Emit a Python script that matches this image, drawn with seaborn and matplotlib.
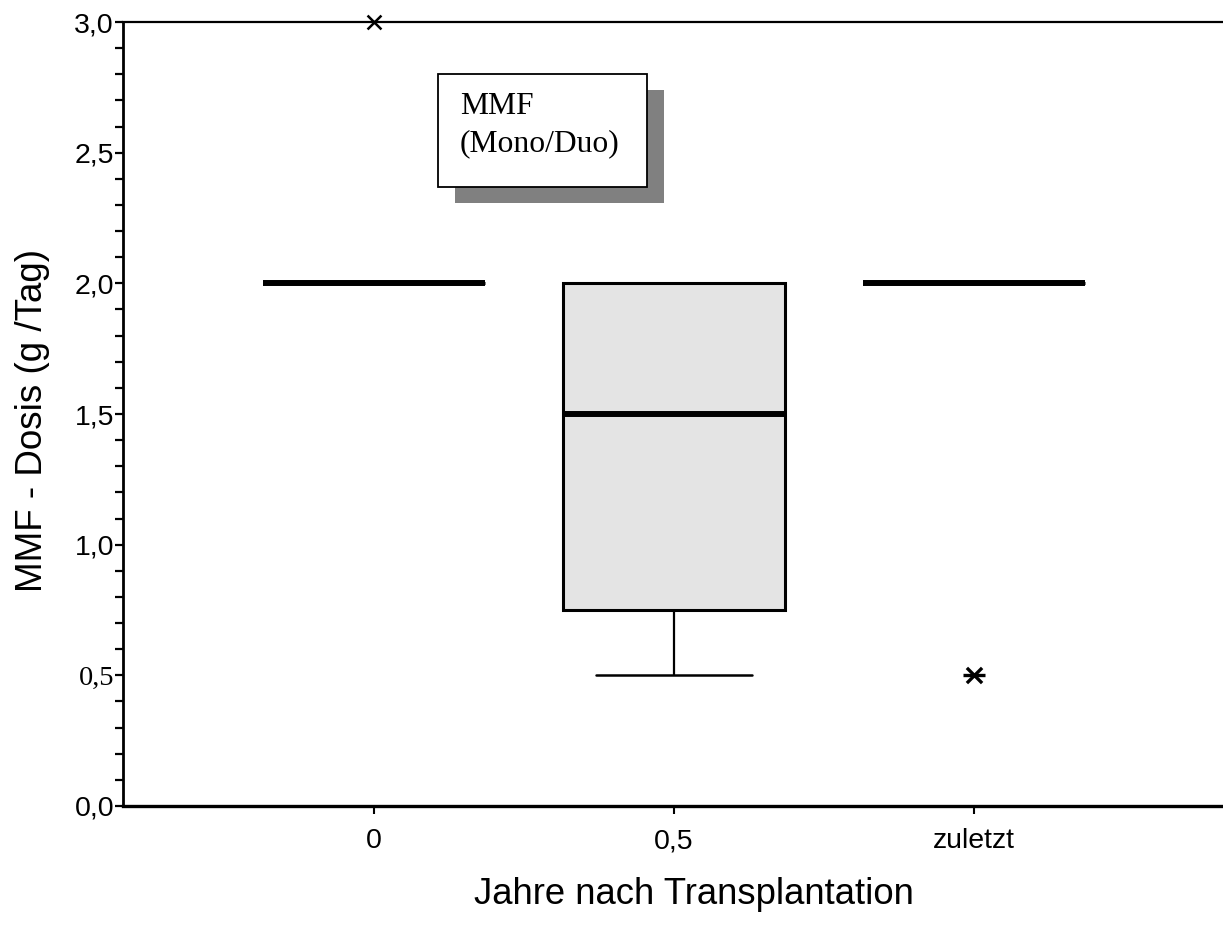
import numpy as np
import pandas as pd
import matplotlib
matplotlib.use("Agg")
import matplotlib.pyplot as plt
from matplotlib.patches import Rectangle
from matplotlib.ticker import MultipleLocator
import seaborn as sns

# MMF dose (g/day) per patient at each time point after transplantation
categories = ["0", "0,5", "zuletzt"]
dose_0 = [2.0, 2.0, 2.0, 2.0, 2.0, 2.0, 2.0, 2.0, 2.0, 2.0, 3.0]
dose_05 = [0.5, 0.75, 0.75, 1.0, 1.5, 1.5, 2.0, 2.0, 2.0]
dose_last = [2.0, 2.0, 2.0, 2.0, 2.0, 2.0, 2.0, 2.0, 2.0, 2.0, 0.5]

# single points drawn separately: mild outlier (x) and extreme value (*)
outlier_cat = ["0"]
outlier_val = [3.0]
extreme_cat = ["zuletzt"]
extreme_val = [0.5]

yticks = [0.0, 0.5, 1.0, 1.5, 2.0, 2.5, 3.0]
ytick_labels = ["0,0", "0,5", "1,0", "1,5", "2,0", "2,5", "3,0"]

df = pd.DataFrame({
    "zeit": [categories[0]] * len(dose_0) + [categories[1]] * len(dose_05)
            + [categories[2]] * len(dose_last),
    "dosis": dose_0 + dose_05 + dose_last,
})

sns.set_theme(style="white")
plt.rcParams["font.family"] = ["Liberation Sans", "DejaVu Sans"]

fig = plt.figure(figsize=(12.23, 9.42), dpi=100)
ax = fig.add_axes([0.1006, 0.1444, 0.8994, 0.8322])

sns.boxplot(
    data=df, x="zeit", y="dosis", order=categories, ax=ax,
    width=0.74, color="#e4e4e4", linecolor="black", showfliers=False,
    whis=1.5, capwidths=0.52,
    boxprops=dict(linewidth=2.2, facecolor="#e4e4e4", edgecolor="black"),
    medianprops=dict(linewidth=4.3, color="black"),
    whiskerprops=dict(linewidth=1.6, color="black"),
    capprops=dict(linewidth=1.8, color="black"),
)

# individual outliers
pos = {c: i for i, c in enumerate(categories)}
ax.scatter([pos[c] for c in outlier_cat], outlier_val, marker="x", s=100,
           color="black", linewidths=1.8, zorder=5, clip_on=False)
ax.scatter([pos[c] for c in extreme_cat], extreme_val, marker="x", s=120,
           color="black", linewidths=2.4, zorder=5, clip_on=False)
ax.scatter([pos[c] for c in extreme_cat], extreme_val, marker="_", s=230,
           color="black", linewidths=2.4, zorder=5, clip_on=False)

ax.set_xlim(-0.835, 2.83)
ax.set_ylim(0.0, 3.0)

ax.set_yticks(yticks)
ax.set_yticklabels(ytick_labels)
ax.yaxis.set_minor_locator(MultipleLocator(0.1))
ax.tick_params(axis="y", which="both", direction="out", length=5.5, width=1.6,
               left=True, labelsize=20.5, pad=1, colors="black")
ax.tick_params(axis="x", which="major", direction="out", length=6, width=1.5,
               bottom=True, labelsize=20.5, pad=10, colors="black")
for lbl in ax.get_yticklabels():
    if lbl.get_text() == "0,5":
        lbl.set_fontfamily(["Liberation Serif", "DejaVu Serif"])

for side in ["left", "bottom", "top"]:
    ax.spines[side].set_visible(True)
    ax.spines[side].set_color("black")
ax.spines["left"].set_linewidth(2.0)
ax.spines["bottom"].set_linewidth(2.4)
ax.spines["top"].set_linewidth(1.6)
ax.spines["right"].set_visible(False)

ax.set_ylabel("MMF - Dosis (g /Tag)", fontsize=26.5, color="black")
ax.yaxis.set_label_coords(-0.066, 0.492)
ax.set_xlabel("Jahre nach Transplantation", fontsize=26.3, color="black")
ax.xaxis.set_label_coords(0.519, -0.090)

# annotation box with drop shadow
W, H = 1223.0, 942.0
def fig_rect(x0, y0, x1, y1, **kw):
    return Rectangle((x0 / W, 1 - y1 / H), (x1 - x0) / W, (y1 - y0) / H,
                     transform=fig.transFigure, **kw)

fig.patches.append(fig_rect(455, 90, 664, 203, facecolor="#808080",
                            edgecolor="none", zorder=10))
fig.patches.append(fig_rect(438, 74, 647, 187, facecolor="white",
                            edgecolor="black", linewidth=1.3, zorder=11))
fig.text(460 / W, 1 - 92 / H, "MMF\n(Mono/Duo)", ha="left", va="top",
         fontsize=22.8, family=["Liberation Serif", "DejaVu Serif"],
         linespacing=1.38, color="black", zorder=12)

fig.savefig("out.png", dpi=100, facecolor="white")
